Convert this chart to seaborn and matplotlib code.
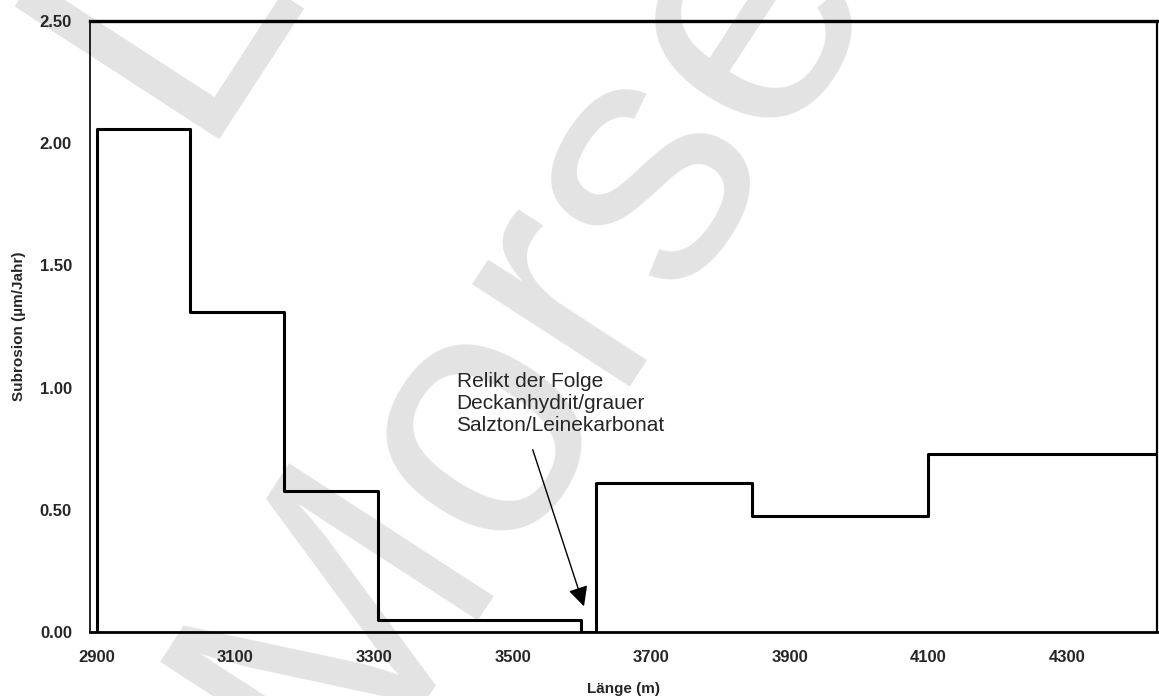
import numpy as np
import pandas as pd
import matplotlib
matplotlib.use("Agg")
import matplotlib.pyplot as plt
import seaborn as sns

# step boundaries along the profile (m) and subrosion rate per segment
x_edges = [2900, 3035, 3170, 3305, 3598, 3620, 3846, 4100, 4430]
rates = [2.06, 1.31, 0.575, 0.05, 0.0, 0.61, 0.475, 0.73]

x_ticks = [2900, 3100, 3300, 3500, 3700, 3900, 4100, 4300]
y_ticks = [0.0, 0.5, 1.0, 1.5, 2.0, 2.5]

note = "Relikt der Folge\nDeckanhydrit/grauer\nSalzton/Leinekarbonat"

sns.set_style("white")
plt.rcParams['font.family'] = ['Liberation Sans', 'DejaVu Sans']

# line starts at zero, then steps-post through the segments
df = pd.DataFrame({
    "Laenge": [x_edges[0]] + x_edges,
    "Rate": [0.0] + rates + [rates[-1]],
})

fig = plt.figure(figsize=(11.59, 6.96), dpi=100)
ax = fig.add_axes([90/1159, 64/696, 1067/1159, 611/696])
ax.patch.set_alpha(0)

# scanned watermark behind the chart (only these letters are visible)
wm = dict(rotation=57, rotation_mode="anchor", ha="left", va="baseline",
          fontsize=255, color="#e3e3e3", zorder=-5)
fig.text(0.29, -0.142, "Morse", **wm)
fig.text(0.165, 0.80, "L", **wm)

sns.lineplot(data=df, x="Laenge", y="Rate", drawstyle="steps-post",
             color="black", linewidth=2.2, ax=ax, estimator=None, sort=False)

ax.set_xlim(2890, 4430)
ax.set_ylim(0, 2.5)
ax.set_xticks(x_ticks)
ax.set_yticks(y_ticks)
ax.set_yticklabels([f"{v:.2f}" for v in y_ticks])
ax.tick_params(axis="y", direction="out", length=3, width=1, labelsize=12, pad=10)
ax.tick_params(axis="x", direction="inout", length=8, width=1, labelsize=12, pad=9)
for lab in ax.get_xticklabels() + ax.get_yticklabels():
    lab.set_fontweight("bold")

for side, lw in [("left", 1.2), ("right", 1.6), ("top", 2.4), ("bottom", 2.0)]:
    ax.spines[side].set_visible(True)
    ax.spines[side].set_color("black")
    ax.spines[side].set_linewidth(lw)

ax.set_xlabel("Länge (m)", fontsize=11, fontweight="bold", labelpad=12)
ax.set_ylabel("Subrosion (µm/Jahr)", fontsize=11, fontweight="bold")
ax.yaxis.set_label_coords(-0.06, 0.5)

ax.text(3419, 1.065, note, fontsize=15, va="top", ha="left", linespacing=1.2)
ax.annotate("", xy=(3603, 0.105), xytext=(3529, 0.746),
            arrowprops=dict(arrowstyle="-|>", color="black", lw=1.0,
                            mutation_scale=30, shrinkA=0, shrinkB=0))

fig.savefig("out.png", dpi=100)
